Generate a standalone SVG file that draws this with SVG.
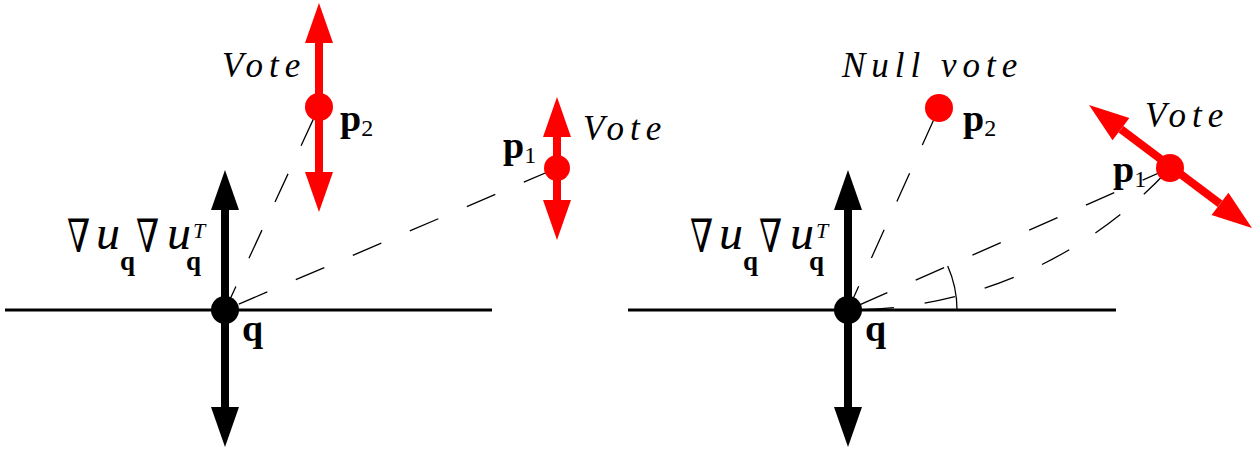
<svg xmlns="http://www.w3.org/2000/svg" width="1259" height="454" viewBox="0 0 1259 454">
<style>
.axis{stroke:#000;stroke-width:3;fill:none}
.dash{stroke:#000;stroke-width:1.3;fill:none;stroke-dasharray:31 31}
.blk{fill:#000}
.red{fill:#ff0000}
.vote{font-family:"Liberation Serif",serif;font-style:italic;font-size:35px;letter-spacing:6px;fill:#000}
.pl{font-family:"Liberation Serif",serif;font-weight:bold;font-size:38px;fill:#000}
.sub{font-family:"Liberation Serif",serif;font-weight:normal;font-size:24px;fill:#000}
.nab{font-family:"DejaVu Serif",serif;font-size:46px;fill:#000}
.u{font-family:"Liberation Serif",serif;font-style:italic;font-size:48px;fill:#000}
.qs{font-family:"Liberation Serif",serif;font-weight:bold;font-size:27px;fill:#000}
.T{font-family:"Liberation Serif",serif;font-style:italic;font-size:22px;fill:#000}
</style>
<defs>
<g id="varrow">
<rect x="-4" y="40" width="8" height="197"/>
<polygon points="0,0 14,40 -14,40"/>
<polygon points="0,277 14,237 -14,237"/>
</g>
<g id="redv">
<rect x="-4" y="40" width="8" height="129"/>
<polygon points="0,0 14,40 -14,40"/>
<polygon points="0,209 14,169 -14,169"/>
</g>
<g id="redv2">
<rect x="-4" y="40" width="8" height="63"/>
<polygon points="0,0 14,40 -14,40"/>
<polygon points="0,143 14,103 -14,103"/>
</g>
<g id="nabla">
<text class="nab" transform="translate(0,0) scale(0.72,1)">∇</text>
<text class="u" x="29" y="-3">u</text>
<text class="qs" x="53" y="18">q</text>
<text class="nab" transform="translate(69,0) scale(0.72,1)">∇</text>
<text class="u" x="100" y="-3">u</text>
<text class="qs" x="119" y="18">q</text>
<text class="T" x="126" y="-14">T</text>
</g>
</defs>

<g id="connectors">
<line class="dash" x1="225" y1="310" x2="319" y2="107" style="stroke-dashoffset:5"/>
<line class="dash" x1="225" y1="310" x2="557" y2="168" style="stroke-dashoffset:47"/>
<line class="dash" x1="848" y1="310" x2="939" y2="108" style="stroke-dashoffset:5"/>
<line class="dash" x1="848" y1="310" x2="1170" y2="168" style="stroke-dashoffset:50"/>
<path class="dash" d="M848,310 A436,436 0 0,0 1170,168" style="stroke-dashoffset:47"/>
<path d="M957,310 A109,109 0 0,0 947.7,266" fill="none" stroke="#000" stroke-width="1.3"/>
</g>

<g id="left-axis">
<line class="axis" x1="5" y1="310" x2="492" y2="310"/>
<use href="#varrow" x="225" y="170" class="blk"/>
<circle cx="225" cy="310" r="14" class="blk"/>
<text class="pl" x="242" y="341">q</text>
<use href="#nabla" x="67" y="252"/>
</g>

<g id="left-p2">
<use href="#redv" x="319" y="3" class="red"/>
<circle cx="319" cy="107" r="14" class="red"/>
<text class="vote" x="222" y="77">Vote</text>
<text class="pl" x="340" y="131">p<tspan class="sub" dy="5">2</tspan></text>
</g>

<g id="left-p1">
<use href="#redv2" x="557" y="97" class="red"/>
<circle cx="557" cy="168" r="13" class="red"/>
<text class="vote" x="583" y="140">Vote</text>
<text class="pl" x="503" y="158">p<tspan class="sub" dy="5">1</tspan></text>
</g>

<g id="right-axis">
<line class="axis" x1="628" y1="310" x2="1116" y2="310"/>
<use href="#varrow" x="848" y="170" class="blk"/>
<circle cx="848" cy="310" r="14" class="blk"/>
<text class="pl" x="865" y="341">q</text>
<use href="#nabla" x="690" y="252"/>
</g>

<g id="right-p2">
<circle cx="939" cy="108" r="14" class="red"/>
<text class="vote" x="842" y="77">Null vote</text>
<text class="pl" x="963" y="131">p<tspan class="sub" dy="5">2</tspan></text>
</g>

<g id="right-p1">
<g transform="translate(1170.5,166.5) rotate(37)" class="red">
<rect x="-62" y="-4" width="124" height="8"/>
<polygon points="-102,0 -62,-14 -62,14"/>
<polygon points="102,0 62,-14 62,14"/>
</g>
<circle cx="1170" cy="168" r="14" class="red"/>
<text class="vote" x="1145" y="127">Vote</text>
<text class="pl" x="1113" y="182">p<tspan class="sub" dy="5">1</tspan></text>
</g>
</svg>
